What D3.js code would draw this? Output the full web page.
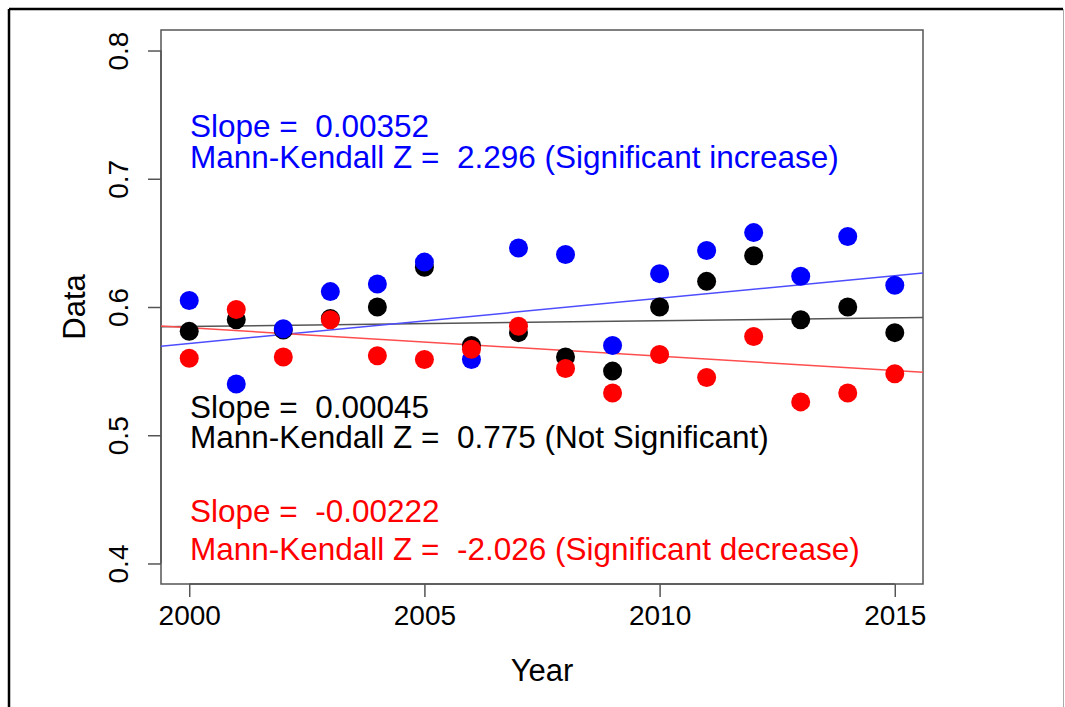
<!DOCTYPE html>
<html>
<head>
<meta charset="utf-8">
<script src="https://cdn.jsdelivr.net/npm/d3@7"></script>
<style>
  body { margin: 0; background: #fff; }
  svg { display: block; font-family: "Liberation Sans", Arial, sans-serif; }
  .note { white-space: pre; }
</style>
</head>
<body>
<svg width="1065" height="707"></svg>
<script>
// data
var years = [2000, 2001, 2002, 2003, 2004, 2005, 2006, 2007, 2008, 2009, 2010, 2011, 2012, 2013, 2014, 2015];
var blackVals = [0.581, 0.590, 0.582, 0.591, 0.600, 0.631, 0.570, 0.580, 0.561, 0.550, 0.600, 0.620, 0.640, 0.590, 0.600, 0.580];
var blueVals  = [0.605, 0.540, 0.583, 0.612, 0.618, 0.635, 0.559, 0.646, 0.641, 0.570, 0.626, 0.644, 0.658, 0.624, 0.655, 0.617];
var redVals   = [0.560, 0.598, 0.561, 0.590, 0.562, 0.559, 0.567, 0.585, 0.552, 0.533, 0.563, 0.545, 0.577, 0.526, 0.533, 0.548];

// trend lines: value at 2000 and slope per year
var trends = [
  {color: "#555555", at2000: 0.5848, slope: 0.00045},
  {color: "#4d4dff", at2000: 0.5716, slope: 0.00352},
  {color: "#ff4d4d", at2000: 0.5838, slope: -0.00222}
];

var xTicks = [2000, 2005, 2010, 2015];
var yTicks = [0.4, 0.5, 0.6, 0.7, 0.8];

var notes = [
  {color: "#0000ff", lines: ["Slope =  0.00352", "Mann-Kendall Z =  2.296 (Significant increase)"]},
  {color: "#000000", lines: ["Slope =  0.00045", "Mann-Kendall Z =  0.775 (Not Significant)"]},
  {color: "#ff0000", lines: ["Slope =  -0.00222", "Mann-Kendall Z =  -2.026 (Significant decrease)"]}
];

var svg = d3.select("svg");

// outer frame
svg.append("line").attr("x1", 9).attr("y1", 9).attr("x2", 1063).attr("y2", 9)
  .attr("stroke", "#000").attr("stroke-width", 2.5);
svg.append("line").attr("x1", 9).attr("y1", 9).attr("x2", 9).attr("y2", 707)
  .attr("stroke", "#000").attr("stroke-width", 2.5);
svg.append("line").attr("x1", 1063.5).attr("y1", 9).attr("x2", 1063.5).attr("y2", 707)
  .attr("stroke", "#aaa").attr("stroke-width", 1);

var boxL = 161, boxR = 923, boxT = 30, boxB = 584;

var x = d3.scaleLinear().domain([1999.4, 2015.6]).range([boxL, boxR]);
var y = d3.scaleLinear().domain([0.384, 0.816]).range([boxB, boxT]);

// plot box
svg.append("rect").attr("x", boxL).attr("y", boxT)
  .attr("width", boxR - boxL).attr("height", boxB - boxT)
  .attr("fill", "none").attr("stroke", "#555").attr("stroke-width", 1.5);

// x axis
var xAxis = svg.append("g").attr("transform", "translate(0," + boxB + ")")
  .call(d3.axisBottom(x).tickValues(xTicks).tickFormat(d3.format("d")).tickSize(13).tickPadding(8));
xAxis.select(".domain").attr("d", "M" + x(2000) + ",0H" + x(2015)).attr("stroke", "#555").attr("stroke-width", 1.5);
xAxis.selectAll("line").attr("stroke", "#555").attr("stroke-width", 1.5);
xAxis.selectAll("text").attr("font-size", 28).attr("fill", "#000")
  .attr("font-family", "Liberation Sans, Arial, sans-serif");

// y axis
var yAxis = svg.append("g").attr("transform", "translate(" + boxL + ",0)")
  .call(d3.axisLeft(y).tickValues(yTicks).tickFormat(d3.format(".1f")).tickSize(13).tickPadding(0));
yAxis.select(".domain").attr("d", "M0," + y(0.4) + "V" + y(0.8)).attr("stroke", "#555").attr("stroke-width", 1.5);
yAxis.selectAll("line").attr("stroke", "#555").attr("stroke-width", 1.5);
yAxis.selectAll(".tick text")
  .attr("font-size", 28).attr("fill", "#000")
  .attr("font-family", "Liberation Sans, Arial, sans-serif")
  .attr("x", 0).attr("y", 0).attr("dy", "0.35em").attr("text-anchor", "middle")
  .attr("transform", "translate(-43,0) rotate(-90)");

// axis titles
svg.append("text").attr("x", (boxL + boxR) / 2).attr("y", 681)
  .attr("text-anchor", "middle").attr("font-size", 31).text("Year");
svg.append("text").attr("transform", "translate(85," + ((boxT + boxB) / 2) + ") rotate(-90)")
  .attr("text-anchor", "middle").attr("font-size", 31).text("Data");

// trend lines, clipped to the plot box
svg.append("clipPath").attr("id", "box").append("rect")
  .attr("x", boxL).attr("y", boxT).attr("width", boxR - boxL).attr("height", boxB - boxT);
var lineGen = d3.line().x(d => x(d[0])).y(d => y(d[1]));
svg.append("g").attr("clip-path", "url(#box)")
  .selectAll("path").data(trends).enter().append("path")
  .attr("d", t => lineGen(x.domain().map(yr => [yr, t.at2000 + t.slope * (yr - 2000)])))
  .attr("stroke", t => t.color).attr("stroke-width", 1.5).attr("fill", "none");

// points: black, then blue, then red
var series = [
  {vals: blackVals, color: "#000000"},
  {vals: blueVals, color: "#0000ff"},
  {vals: redVals, color: "#ff0000"}
];
series.forEach(function(s) {
  svg.append("g").selectAll("circle").data(s.vals).enter().append("circle")
    .attr("cx", (d, i) => x(years[i]))
    .attr("cy", d => y(d))
    .attr("r", 9.5)
    .attr("fill", s.color);
});

// annotation text (baseline of first line, gap to second line)
var noteBase = [137, 418, 522];
var noteGap = [31, 30, 38];
notes.forEach(function(n, k) {
  var t = svg.append("text").attr("class", "note").attr("y", noteBase[k])
    .attr("font-size", 31.5).attr("fill", n.color);
  t.append("tspan").attr("x", 190).attr("y", noteBase[k]).text(n.lines[0]);
  t.append("tspan").attr("x", 190).attr("y", noteBase[k] + noteGap[k]).text(n.lines[1]);
});
</script>
</body>
</html>
